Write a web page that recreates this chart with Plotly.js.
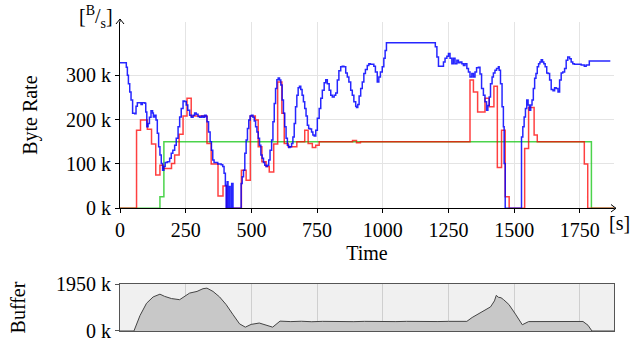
<!DOCTYPE html>
<html>
<head>
<meta charset="utf-8">
<script src="https://cdn.plot.ly/plotly-3.0.1.min.js"></script>
<style>html,body{margin:0;padding:0;background:#fff;}#chart{width:631px;height:343px;}</style>
</head>
<body>
<div id="chart"></div>
<script>
// ---- data (time in s, rates in kB/s, buffer in kB) ----
const blueT = [0,24,28,32,37,42,48,56,61,66,80,85,95,98,102,107,112,118,124,127,132,137,142,147,152,157,162,167,172,
  180,189,195,201,208,214,221,227,233,240,246,252,258,265,271,278,284,290,297,303,310,316,322,328,331,337,343,348,353,358,372,385,391,396,401,
  404,408,411,416,419,425,430,461,465,470,475,480,485,490,495,500,506,511,516,521,526,531,536,541,546,551,556,561,566,571,577,582,587,592,597,602,607,612,617,622,627,632,637,642,647,653,658,663,668,673,678,683,688,693,698,703,708,713,718,723,729,734,739,
  745,751,758,764,770,777,783,789,796,802,808,815,821,827,833,840,846,852,859,865,871,878,884,890,897,900,905,910,916,922,928,934,941,947,953,960,966,972,979,985,991,998,1004,1009,1014,
  1193,1200,1206,1212,1225,1231,1237,1244,1250,1256,1263,1269,1275,1282,1288,1294,1301,1307,1313,1320,1326,1332,1339,1345,1351,1357,1364,1370,1376,1383,1389,1395,1400,1405,1410,1416,1421,1427,1433,1440,1443,1448,1454,1459,1462,1466,
  1528,1533,1538,1543,1548,1553,1558,1563,1568,1573,1578,1583,1588,1593,1598,1603,1608,1613,1618,1624,1629,1635,1641,1648,1654,1660,1667,1673,1679,1685,1692,1698,1704,1711,1717,1723,1729,1742,1755,1767,1774,1786,1866];
const blueV = [328,318,300,281,262,244,214,213,230,238,234,238,237,217,184,191,205,220,215,206,210,199,169,139,120,101,86,94,103,
  105,113,124,131,142,158,184,206,225,242,241,233,221,210,205,210,215,212,207,205,208,205,210,207,195,172,150,131,109,103,100,98,94,79,52,
  0,60,0,49,0,56,0,56,71,86,124,154,180,199,208,210,205,197,184,172,158,142,120,113,103,97,94,97,109,131,154,195,236,270,290,294,289,278,244,214,184,158,142,137,139,146,161,191,229,255,272,275,268,255,240,225,208,187,180,179,172,165,163,
  176,203,225,248,266,283,290,281,266,255,251,255,260,289,310,319,320,319,305,296,285,266,255,240,230,227,234,253,270,285,304,313,322,326,325,325,320,307,285,296,307,319,338,356,373,
  373,364,341,320,320,330,338,343,349,338,326,338,326,334,328,330,326,322,326,315,307,296,304,296,307,317,318,303,270,255,240,221,232,251,281,296,305,311,315,319,311,281,229,184,101,0,
  161,184,206,225,244,233,221,233,244,270,293,304,319,326,330,335,330,326,319,305,304,289,268,265,272,270,262,289,305,307,315,334,341,337,330,326,325,325,323,320,323,332,332];

const redT = [0,63,78,104,120,136,152,164,196,208,225,240,255,271,331,347,373,392,406,462,480,496,515,526,540,556,568,585,600,616,625,640,673,703,716,732,745,758,885,900,915,1332,1345,1361,1389,1405,1423,1436,1452,1466,1481,1540,1555,1576,1588,1767,1780,1880];
const redV = [0,176,199,178,145,75,97,90,101,120,167,208,248,208,146,100,28,50,0,86,63,208,199,139,105,94,82,145,285,214,146,139,150,176,146,137,142,150,153,148,150,289,262,217,248,229,275,92,176,26,0,135,227,165,150,100,0,0];

const greenT = [0,152,167,1794,1880];
const greenV = [0,26,150,0,0];

const bufT = [0,53,76,101,126,152,170,196,227,240,265,293,316,331,354,379,404,429,455,477,499,530,556,581,609,
  650,690,730,770,810,850,890,930,970,1010,1050,1090,1130,1170,1210,1250,1290,1320,1340,1365,1390,1410,1425,1432,1440,1450,1460,1480,1505,1531,1555,
  1600,1640,1680,1720,1762,1781,1796,1880];
const bufV = [0,0,639,1152,1414,1528,1437,1346,1300,1391,1574,1642,1756,1779,1642,1414,1095,696,296,160,274,331,239,160,410,
  390,405,385,400,390,405,388,400,392,405,390,400,388,402,392,400,395,400,560,720,860,1000,1250,1480,1400,1380,1300,1100,700,260,390,
  385,398,392,400,395,239,0,0];

const xTicks = [0,250,500,750,1000,1250,1500,1750];
const yTicks = [0,100,200,300];
const yTickText = ['0 k','100 k','200 k','300 k'];
const bufTicks = [0,1950];
const bufTickText = ['0 k','1950 k'];

const K = v => v.map(x => x*1000);
const serif = 'Liberation Serif, Times New Roman, serif';

const traces = [
  {x: greenT, y: K(greenV), type:'scatter', mode:'lines', line:{shape:'hv', color:'rgba(30,200,30,0.8)', width:1.5}, xaxis:'x', yaxis:'y', hoverinfo:'skip'},
  {x: redT, y: K(redV), type:'scatter', mode:'lines', line:{shape:'hv', color:'rgba(255,0,0,0.75)', width:1.5}, xaxis:'x', yaxis:'y', hoverinfo:'skip'},
  {x: blueT, y: K(blueV), type:'scatter', mode:'lines', line:{shape:'hv', color:'rgba(0,0,255,0.85)', width:1.5}, xaxis:'x', yaxis:'y', hoverinfo:'skip'},
  {x: bufT, y: K(bufV), type:'scatter', mode:'lines', fill:'tozeroy', fillcolor:'#c8c8c8', line:{color:'#444', width:1}, xaxis:'x2', yaxis:'y2', hoverinfo:'skip'}
];

// axis arrow heads (decoration, paper coordinates)
const xTip = 1.0040, yAx = 0.3984;
const yTip = 1.0032;

const layout = {
  width:631, height:343,
  margin:{l:120, r:17, t:20, b:10},
  paper_bgcolor:'#fff', plot_bgcolor:'rgba(0,0,0,0)',
  showlegend:false,
  font:{family:serif, size:20, color:'#000'},
  xaxis:{domain:[0,1], anchor:'y', range:[0,1880], tickvals:xTicks, showgrid:true, gridcolor:'#e4e4e4', gridwidth:1,
    zeroline:false, showline:true, linecolor:'#000', linewidth:1, ticks:'outside', ticklen:4, tickcolor:'#000',
    tickfont:{family:serif, size:20}, title:{text:'Time', font:{family:serif, size:20}, standoff:5}},
  yaxis:{domain:[0.3984,0.9936], anchor:'x', range:[0,420000], tickvals:K(yTicks), ticktext:yTickText, showgrid:true, gridcolor:'#e4e4e4',
    zeroline:false, showline:true, linecolor:'#000', linewidth:1, ticks:'outside', ticklen:4, tickcolor:'#000',
    tickfont:{family:serif, size:20}, title:{text:'Byte Rate', font:{family:serif, size:20}, standoff:22}},
  xaxis2:{domain:[0,1], anchor:'y2', range:[0,1880], tickvals:xTicks, showticklabels:false, ticks:'', showgrid:true, gridcolor:'#cfcfcf',
    zeroline:false, showline:true, mirror:true, linecolor:'#555', linewidth:1},
  yaxis2:{domain:[0.0064,0.1565], anchor:'x2', range:[0,1950000], tickvals:K(bufTicks), ticktext:bufTickText, showgrid:false,
    zeroline:false, showline:true, mirror:true, linecolor:'#555', linewidth:1, ticks:'outside', ticklen:4, tickcolor:'#555',
    tickfont:{family:serif, size:20}, title:{text:'Buffer', font:{family:serif, size:20}, standoff:24}},
  shapes:[
    {type:'rect', xref:'x2 domain', yref:'y2 domain', x0:0, x1:1, y0:0, y1:1, fillcolor:'#f0f0f0', line:{width:0}, layer:'below'},
    {type:'path', xref:'paper', yref:'paper', path:`M 1,${yAx} L ${xTip},${yAx} M 0.9939,0.4105 L ${xTip},${yAx} L 0.9939,0.3866`, line:{color:'#000', width:1}},
    {type:'path', xref:'paper', yref:'paper', path:`M 0,0.9936 L 0,${yTip} M -0.0081,0.9872 L 0,${yTip} L 0.0081,0.9872`, line:{color:'#000', width:1}}
  ],
  annotations:[
    {xref:'paper', yref:'paper', x:-0.0486, y:1.0096, text:'[<sup>B</sup>/<sub>s</sub>]', showarrow:false, xanchor:'center', yanchor:'middle', font:{family:serif, size:20}},
    {xref:'paper', yref:'paper', x:0.986, y:0.352, text:'[s]', showarrow:false, xanchor:'left', yanchor:'middle', font:{family:serif, size:20}}
  ]
};

Plotly.newPlot('chart', traces, layout, {staticPlot:true, displayModeBar:false});
</script>
</body>
</html>
